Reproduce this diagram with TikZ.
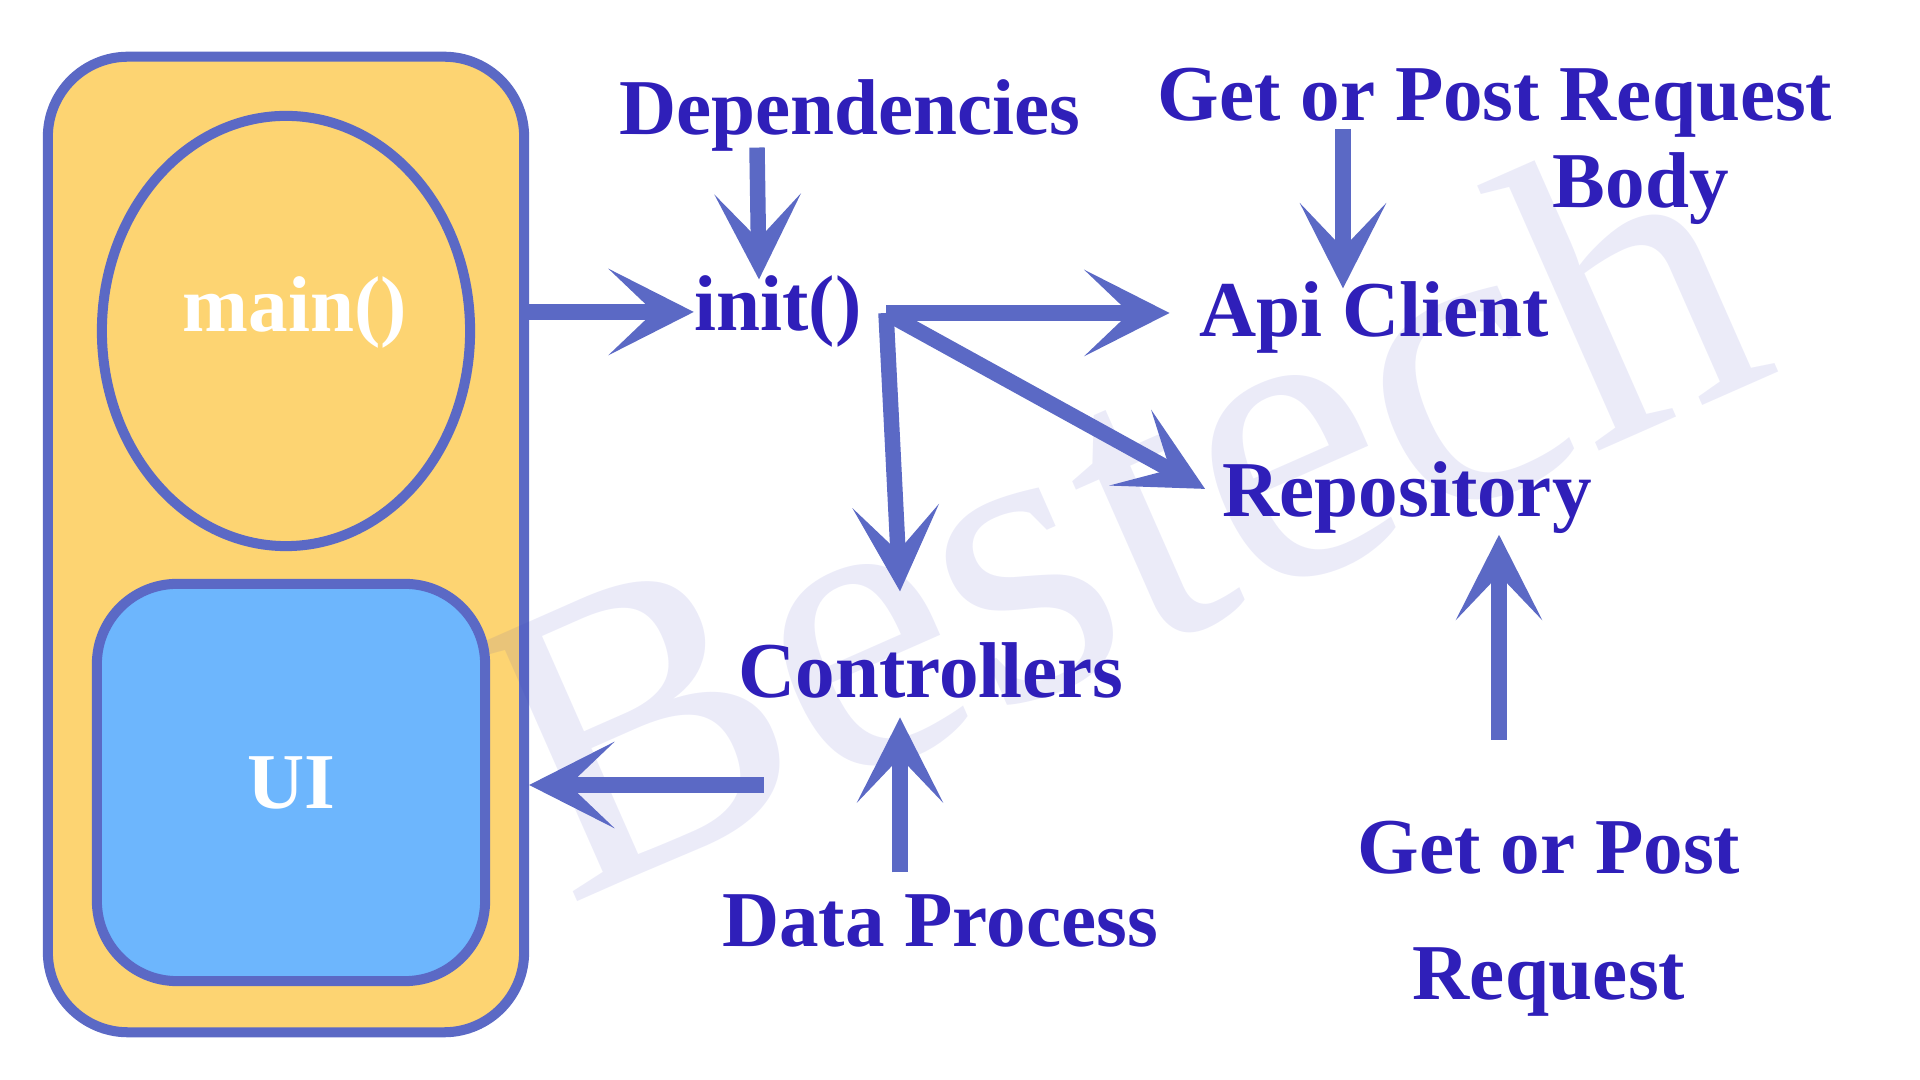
\documentclass[tikz,border=0pt]{standalone}
\usepackage{fontspec}
\setmainfont{Liberation Serif}
\usepackage{xcolor}
\usetikzlibrary{shapes.geometric, arrows.meta, positioning, calc}
\definecolor{inkblue}{HTML}{2F1FB9}
\definecolor{edgeblue}{HTML}{5B69C5}
\definecolor{appyellow}{HTML}{FDD472}
\definecolor{uiblue}{HTML}{6DB6FD}
\definecolor{markblue}{HTML}{3C3CBE}

\begin{document}
\begin{tikzpicture}[
    x=0.01cm, y=-0.01cm,
    every node/.style={inner sep=0pt},
    appframe/.style={rectangle, rounded corners=0.8cm, draw=edgeblue, fill=appyellow, line width=2.85pt, minimum width=4.76cm, minimum height=9.75cm},
    mainoval/.style={ellipse, draw=edgeblue, line width=2.85pt, minimum width=3.68cm, minimum height=4.3cm},
    uibox/.style={rectangle, rounded corners=0.8cm, draw=edgeblue, fill=uiblue, line width=2.85pt, minimum width=3.88cm, minimum height=3.97cm, text=white, font=\fontsize{22.5}{27}\selectfont\bfseries},
    lbl/.style={text=inkblue, font=\fontsize{22.5}{27}\selectfont\bfseries},
    arr/.style={draw=edgeblue, line width=4.4pt, -{Stealth[length=0.85cm, width=0.86cm, inset=0.45cm]}}
]
\useasboundingbox (0,0) rectangle (1920,1080);
\node[appframe] (appbox) at (286,544.5) {};
\node[rotate=23.8, anchor=base, text=markblue, text opacity=0.1, font=\fontsize{119.5}{120}\selectfont] (mark) at (1175,638) {Bestech};
\node[mainoval] (mainring) at (286,331) {};
\node[lbl, text=white, anchor=base] (main) at (295,332) {main()};
\node[uibox] (ui) at (291,782.5) {UI};

\node[lbl, anchor=base] (deps) at (850,135) {Dependencies};
\node[lbl, anchor=base] (init) at (778,331) {init()};
\node[lbl, anchor=base] (api) at (1374,337) {Api Client};
\node[lbl, anchor=north west, align=left, font=\fontsize{22.5}{24.8}\selectfont\bfseries] (reqbody) at (1157,67) {Get or Post Request\\\hspace*{3.95cm}Body};
\node[lbl, anchor=base] (repo) at (1407,517) {Repository};
\node[lbl, anchor=base] (ctrl) at (931,698) {Controllers};
\node[lbl, anchor=base] (data) at (940,947) {Data Process};
\node[lbl, anchor=north, align=center, font=\fontsize{22.5}{35.9}\selectfont\bfseries] (getpost) at (1549,820) {Get or Post\\Request};

\coordinate (hub) at (886,313);
\coordinate (rb) at ($(reqbody.north west)+(186,62)$);
\coordinate (gp) at ($(getpost.north)+(-50,-80)$);
\coordinate (dp) at ($(data.north)+(-40,-22)$);
\coordinate (back) at (764,785);

\draw[arr] (appbox.east |- init.west) -- (init.west);
\draw[arr] ($(deps.south)+(-93,-5)$) -- ($(init.north)+(-19,4)$);
\draw[arr, shorten >=0.29cm] (hub) -- (hub -| api.west);
\draw[arr, shorten >=0.19cm] (hub) -- (repo.west);
\draw[arr] (hub) -- ($(ctrl.north)+(-31,-51)$);
\draw[arr] (rb) -- ($(rb |- api.north)+(0,7)$);
\draw[arr] (gp) -- (gp |- repo.south);
\draw[arr] (dp) -- ($(dp |- ctrl.south)+(0,18)$);
\draw[arr] (back) -- (back -| appbox.east);
\end{tikzpicture}
\end{document}
